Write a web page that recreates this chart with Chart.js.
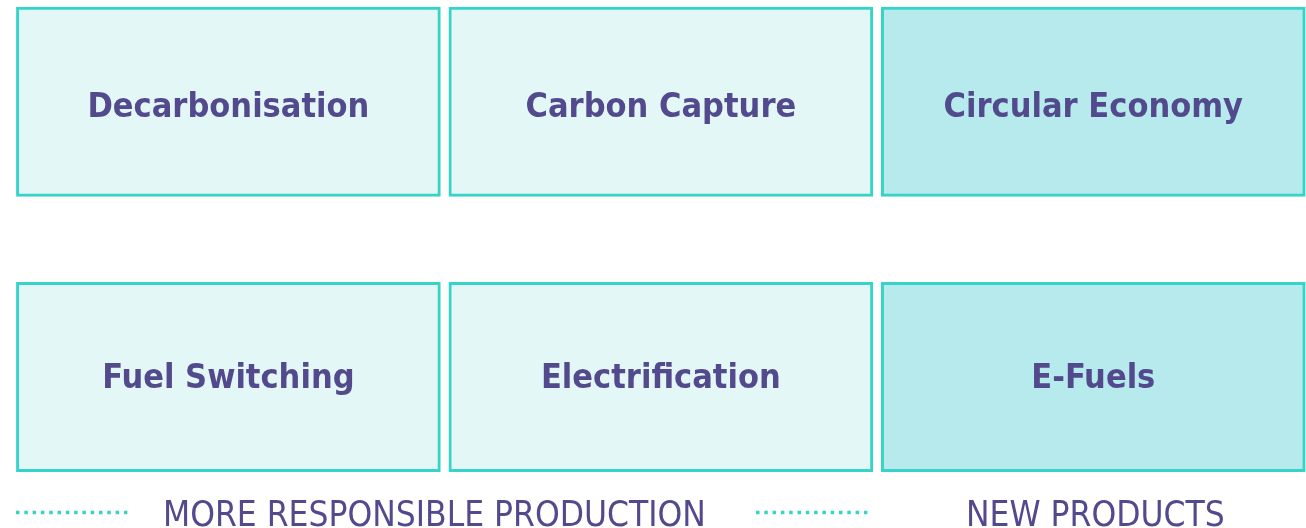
<!DOCTYPE html>
<html><head><meta charset="utf-8">
<script src="https://cdn.jsdelivr.net/npm/chart.js@4/dist/chart.umd.min.js"></script>
<style>html,body{margin:0;padding:0;background:#fff;overflow:hidden}#w{width:1306px;height:528px;position:relative}</style>
</head><body><div id="w"><canvas id="c"></canvas></div>
<script>
// ---- data ----
const columns = [0, 1, 2];
const topRowLabels = ['Decarbonisation', 'Carbon Capture', 'Circular Economy'];
const bottomRowLabels = ['Fuel Switching', 'Electrification', 'E-Fuels'];
const topRowSpan = [0, 1];
const bottomRowSpan = [1.4543, 2.4548];
const legendLabels = ['MORE RESPONSIBLE PRODUCTION', 'NEW PRODUCTS'];

// ---- styles ----
const LIGHT = '#e4f7f7', DARK = '#b6eaec', BORDER = '#36d3c9', TEXT = '#524a8c';
const columnFills = [LIGHT, LIGHT, DARK];

function rowDataset(labels, span, textShift) {
  return {
    data: columns.map(c => ({ x: c, y: span })),
    boxLabels: labels,
    textShift: textShift,
    backgroundColor: columnFills,
    borderColor: BORDER,
    borderWidth: 3,
    borderSkipped: false,
    grouped: false,
    barThickness: 424
  };
}

const boxLabelPlugin = {
  id: 'boxLabels',
  afterDatasetsDraw(chart) {
    const ctx = chart.ctx;
    ctx.save();
    ctx.fillStyle = TEXT;
    ctx.font = 'bold 34px "DejaVu Sans Condensed"';
    ctx.textAlign = 'center';
    ctx.textBaseline = 'alphabetic';
    chart.data.datasets.forEach((ds, i) => {
      chart.getDatasetMeta(i).data.forEach((el, j) => {
        const cy = (el.y + el.base) / 2;
        ctx.fillText(ds.boxLabels[j], el.x, cy + ds.textShift);
      });
    });
    ctx.restore();
  }
};

const bottomLegendPlugin = {
  id: 'bottomLegend',
  afterDraw(chart, args, opts) {
    const ctx = chart.ctx;
    ctx.save();
    opts.items.forEach((it, i) => {
      ctx.strokeStyle = BORDER;
      ctx.lineWidth = 3.5;
      ctx.setLineDash([3.5, 4.8]);
      ctx.beginPath();
      ctx.moveTo(it.lineFrom, opts.lineY);
      ctx.lineTo(it.lineTo, opts.lineY);
      ctx.stroke();
      ctx.setLineDash([]);
      ctx.fillStyle = TEXT;
      ctx.font = '35px "DejaVu Sans Condensed"';
      ctx.textAlign = 'left';
      ctx.textBaseline = 'alphabetic';
      ctx.fillText(legendLabels[i], it.textX, opts.textBaseline);
    });
    ctx.restore();
  }
};

new Chart(document.getElementById('c'), {
  type: 'bar',
  data: { datasets: [rowDataset(topRowLabels, topRowSpan, 15), rowDataset(bottomRowLabels, bottomRowSpan, 11.5)] },
  options: {
    responsive: true,
    maintainAspectRatio: false,
    animation: false,
    layout: { padding: 0 },
    scales: {
      x: { type: 'linear', display: false, offset: false, min: -0.52815, max: 2.49185 },
      y: { type: 'linear', display: false, reverse: true, min: -0.03698, max: 2.7523 }
    },
    plugins: {
      legend: { display: false },
      tooltip: { enabled: false },
      bottomLegend: {
        lineY: 512.5,
        textBaseline: 525.5,
        items: [
          { lineFrom: 16, lineTo: 128, textX: 163 },
          { lineFrom: 756, lineTo: 868, textX: 966 }
        ]
      }
    }
  },
  plugins: [boxLabelPlugin, bottomLegendPlugin]
});
</script></body></html>
